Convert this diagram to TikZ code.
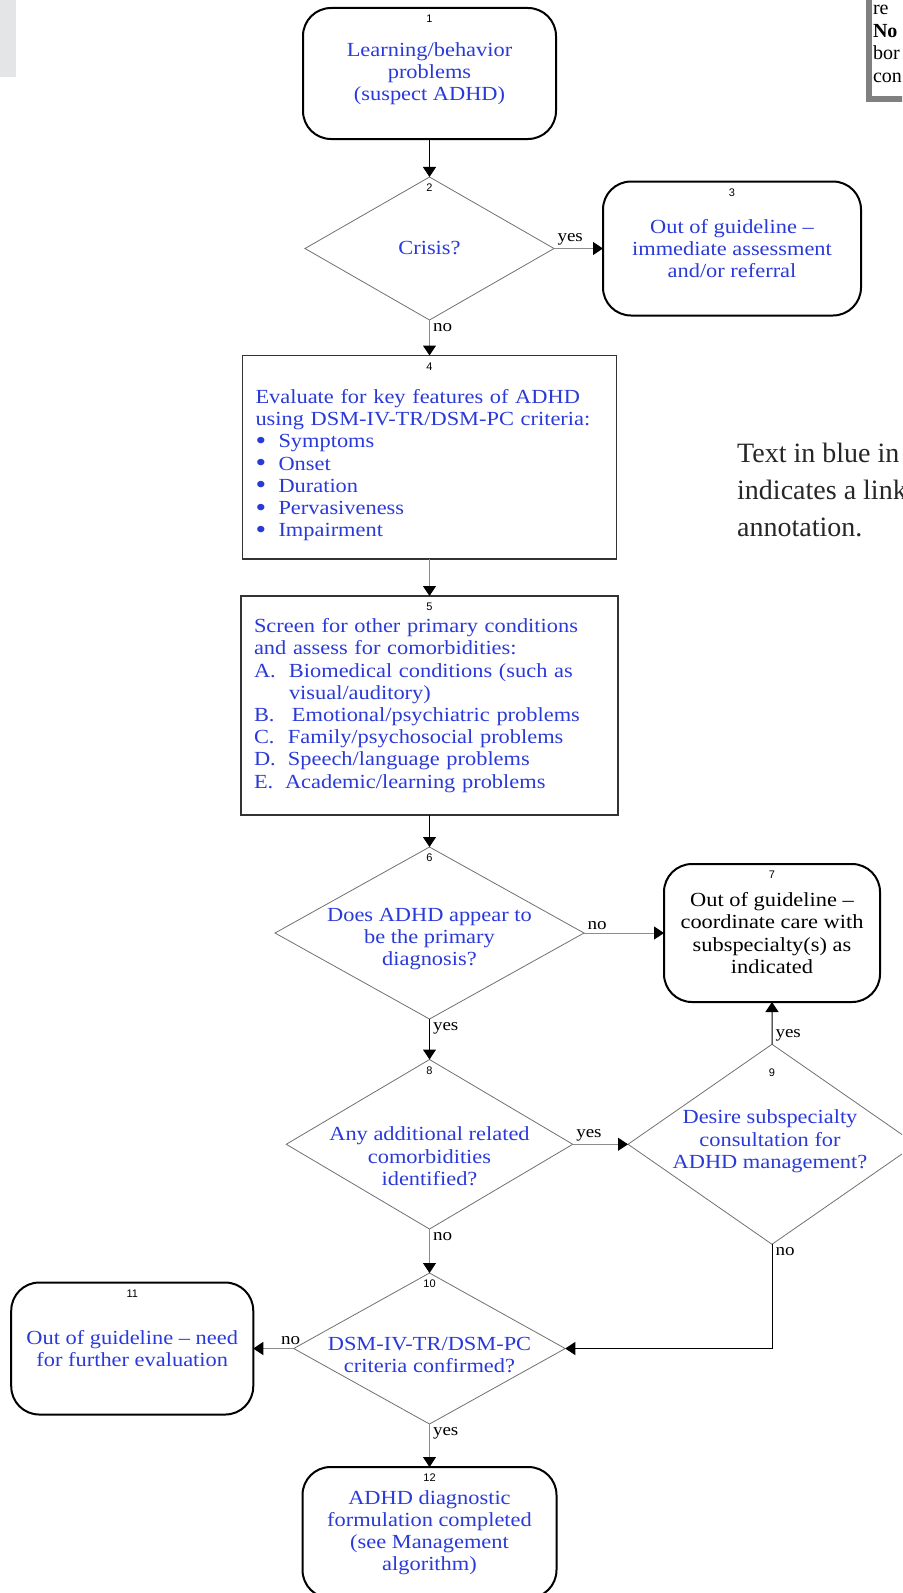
\documentclass[tikz,border=0pt]{standalone}
\usepackage{fontspec}
\usepackage{tikz}
\usetikzlibrary{arrows.meta,positioning,shapes.geometric}
\setmainfont{Liberation Serif}
\newfontfamily\flowfont{Liberation Serif}[FakeStretch=1.12]
\newfontfamily\numfont{Liberation Sans}
\definecolor{linkblue}{HTML}{2A3AD8}
\definecolor{diagray}{HTML}{707070}
\definecolor{linegray}{HTML}{8C8C8C}
\definecolor{boxgray}{HTML}{333333}
\definecolor{framegray}{HTML}{808080}
\definecolor{sidegray}{HTML}{E4E5E7}
\newcommand{\flowsize}{\fontsize{20bp}{22.2bp}\selectfont}
\newcommand{\litem}[2]{\makebox[#1][l]{#2}}
\newcommand{\bigdot}{\smash{\raisebox{-1.5bp}{\fontsize{27bp}{22bp}\selectfont\textbullet}}}

\begin{document}
\begin{tikzpicture}[
  x=1bp, y=-1bp,
  endbox/.style={rectangle, rounded corners=28bp, draw=black, line width=2bp, outer sep=0pt, inner sep=2bp, align=center, font=\flowfont\flowsize, text=linkblue},
  stepbox/.style={rectangle, draw=boxgray, line width=1.3bp, outer sep=0pt, inner xsep=13bp, inner ysep=0pt, align=left, font=\flowfont\flowsize, text=linkblue},
  query/.style={diamond, draw=diagray, line width=0.8bp, outer sep=0pt, inner sep=0pt},
  qtext/.style={align=center, inner sep=0pt, font=\flowfont\flowsize, text=linkblue},
  num/.style={anchor=center, yshift=-11bp, inner sep=0pt, font=\numfont\fontsize{11bp}{12bp}\selectfont},
  lbl/.style={inner sep=3bp, font=\flowfont\fontsize{17bp}{18bp}\selectfont},
  keybox/.style={rectangle, draw=framegray, line width=6bp, fill=white, outer sep=0pt, text width=40bp, align=left, inner xsep=4bp, inner ysep=17bp, font=\fontsize{20bp}{22.5bp}\selectfont},
  notetext/.style={align=left, inner sep=0pt, text=black!85, font=\fontsize{28bp}{37bp}\selectfont},
  arrow/.style={-{Triangle[length=10bp, width=13bp, color=black]}, line width=1bp, draw=black},
  grayarrow/.style={arrow, draw=linegray}
]
\useasboundingbox (0,0) rectangle (902,1593);
\clip (0,0) rectangle (902,1593);

\fill[sidegray] (0,0) rectangle (16,77);
\node[keybox, anchor=south west] (keynote) at (869,99.5) {re\\\textbf{No}\\bor\\con};
\node[notetext, anchor=west] (legend) at (737,490) {Text in blue in\\indicates a link\\annotation.};

\node[endbox, minimum width=253bp, minimum height=131bp] (concern) at (429.5,73.5) {Learning/behavior\\problems\\(suspect ADHD)};
\node[query, minimum width=249bp, minimum height=143bp, below=38bp of concern] (crisis) {};
\node[endbox, minimum width=258bp, minimum height=134bp, right=49bp of crisis] (referral) {Out of guideline –\\immediate assessment\\and/or referral};
\node[stepbox, text width=348bp, minimum height=203.5bp, below=35.5bp of crisis] (evaluate) {\rule{0pt}{30bp}Evaluate for key features of ADHD\\using DSM-IV-TR/DSM-PC criteria:\\\litem{23bp}{\bigdot}Symptoms\\\litem{23bp}{\bigdot}Onset\\\litem{23bp}{\bigdot}Duration\\\litem{23bp}{\bigdot}Pervasiveness\\\litem{23bp}{\bigdot}Impairment};
\node[stepbox, text width=351bp, minimum height=219bp, below=37bp of evaluate] (screen) {Screen for other primary conditions\\and assess for comorbidities:\\\litem{35bp}{A.}Biomedical conditions (such as\\\litem{35bp}{}visual/auditory)\\\litem{38bp}{B.}Emotional/psychiatric problems\\\litem{34bp}{C.}Family/psychosocial problems\\\litem{34bp}{D.}Speech/language problems\\\litem{31bp}{E.}Academic/learning problems};
\node[query, minimum width=309bp, minimum height=172bp, below=32bp of screen] (primary) {};
\node[endbox, minimum width=216bp, minimum height=138bp, right=80bp of primary, text=black] (coordinate) {Out of guideline –\\coordinate care with\\subspecialty(s) as\\indicated};
\node[query, minimum width=286.5bp, minimum height=169.5bp, below=40.5bp of primary] (comorbid) {};
\node[query, minimum width=288bp, minimum height=200bp, right=55.25bp of comorbid] (consult) {};
\node[query, minimum width=271.5bp, minimum height=151bp, below=44bp of comorbid] (confirmed) {};
\node[endbox, minimum width=242bp, minimum height=132bp, left=40.5bp of confirmed] (furthereval) {Out of guideline – need\\for further evaluation};
\node[endbox, minimum width=254bp, minimum height=131bp, below=43bp of confirmed] (formulation) {ADHD diagnostic\\formulation completed\\(see Management\\algorithm)};

\node[qtext] (crisisq) at (crisis) {Crisis?};
\node[qtext] (primaryq) at ([yshift=-6bp]primary) {Does ADHD appear to\\be the primary\\diagnosis?};
\node[qtext] (comorbidq) at ([yshift=-12bp]comorbid) {Any additional related\\comorbidities\\identified?};
\node[qtext] (consultq) at ([xshift=-2bp, yshift=3bp]consult) {Desire subspecialty\\consultation for\\ADHD management?};
\node[qtext] (confirmedq) at ([yshift=-6.5bp]confirmed) {DSM-IV-TR/DSM-PC\\criteria confirmed?};

\node[num] (n1) at (concern.north) {1};
\node[num] (n2) at (crisis.north) {2};
\node[num] (n3) at (referral.north) {3};
\node[num] (n4) at (evaluate.north) {4};
\node[num] (n5) at (screen.north) {5};
\node[num] (n6) at (primary.north) {6};
\node[num] (n7) at (coordinate.north) {7};
\node[num] (n8) at (comorbid.north) {8};
\node[num, yshift=-17bp] (n9) at (consult.north) {9};
\node[num] (n10) at (confirmed.north) {10};
\node[num] (n11) at (furthereval.north) {11};
\node[num] (n12) at (formulation.north) {12};

\draw[arrow] (concern) -- (crisis);
\draw[grayarrow] (crisis) -- node[lbl, pos=0, anchor=south west] {yes} (referral);
\draw[grayarrow] (crisis) -- node[lbl, pos=0, anchor=north west] {no} (evaluate);
\draw[grayarrow] (evaluate) -- (screen);
\draw[arrow] (screen) -- (primary);
\draw[grayarrow] (primary) -- node[lbl, pos=0, anchor=south west] {no} (coordinate);
\draw[arrow] (primary) -- node[lbl, pos=0, anchor=north west] {yes} (comorbid);
\draw[grayarrow] (comorbid) -- node[lbl, pos=0, anchor=south west] {yes} (consult);
\draw[arrow] (consult) -- node[lbl, pos=0, anchor=south west] {yes} (coordinate);
\draw[grayarrow] (comorbid) -- node[lbl, pos=0, anchor=north west] {no} (confirmed);
\draw[arrow] (consult) |- node[lbl, pos=0, anchor=north west] {no} (confirmed);
\draw[grayarrow] (confirmed) -- node[lbl, pos=0, anchor=south, xshift=-3bp] {no} (furthereval);
\draw[grayarrow] (confirmed) -- node[lbl, pos=0, anchor=north west] {yes} (formulation);
\end{tikzpicture}
\end{document}
